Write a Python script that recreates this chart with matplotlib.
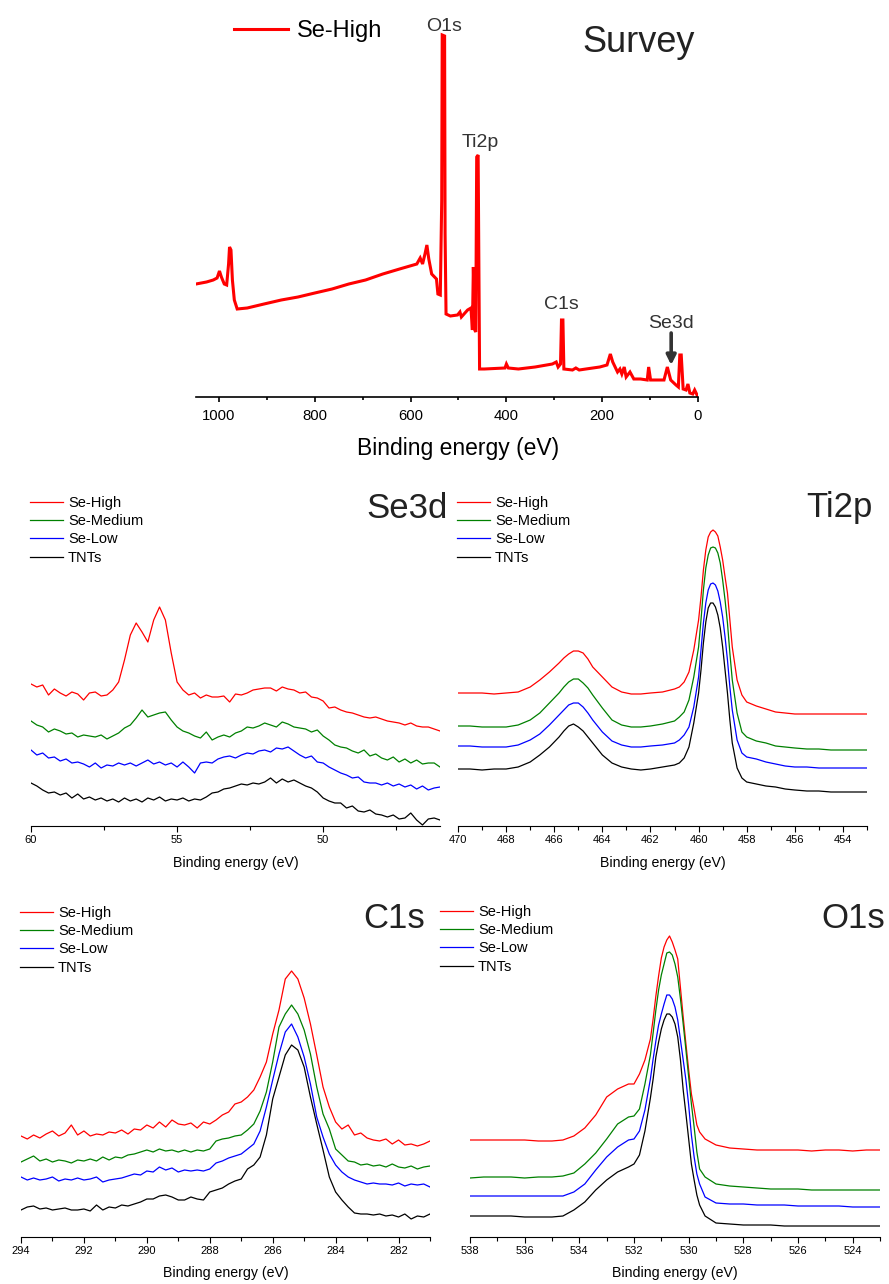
import matplotlib.pyplot as plt
from matplotlib.ticker import MultipleLocator

# Liberation Sans has the same metrics as Arial
plt.rcParams["font.family"] = ["Liberation Sans", "DejaVu Sans"]

W, H = 889, 1284
OUT_PNG = "out.png"

SAMPLES = ["Se-High", "Se-Medium", "Se-Low", "TNTs"]
COLORS = ["#FF0000", "#008000", "#0000FF", "#000000"]

# ---------- survey scan (Se-High), intensity in a.u. ----------
SURVEY_BE = [1048, 1026, 1012, 1004, 999, 995, 989, 984, 980, 978, 975, 972,
             968, 962, 941, 906, 870, 835, 800, 764, 729, 694, 658, 623, 587,
             580, 575, 570, 566, 562, 556, 546, 543, 538, 535, 534, 529, 528,
             526, 517, 502, 497, 494, 481, 474, 471, 469, 466, 464, 462, 459,
             456, 446, 403, 400, 396, 375, 340, 304, 296, 292, 287, 285, 282,
             280, 262, 255, 248, 234, 205, 190, 183, 178, 173, 168, 163, 159,
             154, 150, 142, 134, 120, 106, 103, 99, 71, 64, 57, 46, 41, 38,
             35, 31, 25, 21, 17, 11, 7, 1, 0]
SURVEY_I = [113, 115, 117, 119, 126, 120, 113, 112, 133, 150, 147, 117,
            97, 88, 89, 93, 97, 100, 104, 108, 113, 117, 123, 128, 133,
            139, 133, 143, 152, 138, 123, 118, 103, 102, 197, 362, 361, 163,
            83, 81, 82, 85, 80, 87, 89, 67, 130, 67, 65, 240, 242,
            28, 28, 29, 33, 29, 28, 30, 33, 35, 30, 33, 77, 77,
            28, 27, 29, 27, 28, 30, 32, 43, 35, 30, 25, 28, 23,
            30, 20, 25, 18, 18, 17, 30, 17, 17, 30, 17, 12, 10, 42,
            42, 8, 7, 13, 4, 3, 7, 1, 0]

# ---------- Se3d ----------
SE3D_BE = [60.0, 59.8, 59.6, 59.4, 59.2, 59.0, 58.8, 58.6, 58.4, 58.2,
           58.0, 57.8, 57.6, 57.4, 57.2, 57.0, 56.8, 56.6, 56.4, 56.2,
           56.0, 55.8, 55.6, 55.4, 55.2, 55.0, 54.8, 54.6, 54.4, 54.2,
           54.0, 53.8, 53.6, 53.4, 53.2, 53.0, 52.8, 52.6, 52.4, 52.2,
           52.0, 51.8, 51.6, 51.4, 51.2, 51.0, 50.8, 50.6, 50.4, 50.2,
           50.0, 49.8, 49.6, 49.4, 49.2, 49.0, 48.8, 48.6, 48.4, 48.2,
           48.0, 47.8, 47.6, 47.4, 47.2, 47.0, 46.8, 46.6, 46.4, 46.2, 46.0]
SE3D_HIGH = [142, 139, 141, 131, 137, 133, 130, 134, 132, 126,
             133, 134, 130, 131, 136, 144, 166, 191, 203, 194,
             184, 206, 219, 206, 173, 144, 136, 131, 133, 128,
             131, 129, 129, 130, 124, 132, 131, 133, 136, 137,
             138, 138, 135, 139, 137, 136, 133, 134, 129, 128,
             125, 118, 119, 116, 114, 113, 111, 109, 108, 109,
             107, 105, 104, 103, 101, 103, 100, 99, 99, 97, 95]
SE3D_MEDIUM = [105, 101, 99, 94, 97, 95, 92, 93, 89, 91,
               90, 89, 91, 87, 90, 93, 98, 101, 108, 116,
               109, 111, 113, 114, 106, 99, 95, 93, 90, 88,
               94, 86, 89, 91, 89, 93, 95, 99, 98, 100,
               103, 101, 99, 104, 102, 99, 98, 97, 94, 96,
               90, 86, 81, 79, 78, 75, 73, 76, 70, 72,
               68, 66, 69, 64, 67, 63, 66, 62, 63, 63, 59]
SE3D_LOW = [76, 71, 73, 68, 69, 65, 67, 63, 64, 62,
            59, 63, 58, 61, 60, 63, 61, 63, 60, 63,
            66, 62, 64, 61, 63, 59, 64, 59, 53, 63,
            64, 63, 67, 69, 70, 68, 71, 73, 72, 75,
            76, 74, 78, 77, 79, 75, 71, 68, 70, 64,
            63, 59, 56, 53, 51, 48, 49, 44, 43, 43,
            41, 43, 40, 42, 39, 41, 37, 40, 36, 38, 39]
SE3D_TNTS = [43, 40, 36, 33, 34, 31, 33, 28, 32, 27,
             29, 26, 28, 25, 27, 24, 28, 25, 27, 24,
             28, 26, 29, 25, 27, 26, 28, 25, 27, 26,
             29, 33, 34, 37, 38, 40, 42, 41, 43, 42,
             44, 48, 43, 47, 44, 46, 43, 40, 38, 34,
             28, 25, 23, 23, 18, 20, 15, 14, 16, 12,
             11, 9, 11, 7, 8, 13, 6, 1, 7, 8, 6]

# ---------- Ti2p ----------
TI2P_BE = [470.0, 469.5, 469.0, 468.5, 468.0, 467.5, 467.0, 466.6, 466.2, 465.8,
           465.6, 465.4, 465.2, 465.0, 464.8, 464.6, 464.4, 464.0, 463.6, 463.2,
           462.8, 462.4, 462.0, 461.5, 461.0, 460.8, 460.6, 460.4, 460.2, 460.0,
           459.9, 459.8, 459.7, 459.6, 459.5, 459.4, 459.3, 459.2, 459.1, 459.0,
           458.9, 458.8, 458.7, 458.6, 458.4, 458.2, 458.0, 457.6, 457.2, 456.8,
           456.4, 456.0, 455.5, 455.0, 454.5, 454.0, 453.5, 453.0]
TI2P_HIGH = [133, 133, 133, 132, 133, 134, 139, 146, 154, 163,
             168, 172, 175, 175, 173, 167, 159, 149, 139, 134,
             132, 132, 133, 134, 137, 139, 144, 154, 176, 206,
             229, 256, 276, 289, 294, 296, 294, 290, 279, 266,
             249, 233, 206, 179, 146, 131, 124, 120, 117, 114,
             113, 112, 112, 112, 112, 112, 112, 112]
TI2P_MEDIUM = [100, 100, 99, 99, 99, 101, 106, 113, 123, 133,
               139, 144, 147, 147, 143, 138, 131, 118, 106, 101,
               99, 99, 100, 102, 105, 109, 114, 126, 149, 179,
               206, 236, 258, 271, 278, 279, 278, 273, 263, 246,
               226, 203, 173, 146, 113, 94, 89, 85, 83, 80,
               79, 78, 77, 77, 76, 76, 76, 76]
TI2P_LOW = [80, 80, 79, 79, 79, 81, 86, 92, 101, 111,
            116, 121, 123, 123, 119, 113, 106, 94, 85, 81,
            79, 79, 80, 81, 83, 86, 91, 99, 119, 149,
            176, 203, 223, 236, 242, 243, 241, 235, 224, 209,
            189, 166, 139, 116, 86, 73, 69, 67, 64, 62,
            60, 59, 59, 58, 58, 58, 58, 58]
TI2P_TNTS = [57, 57, 56, 57, 57, 59, 64, 71, 79, 89,
             95, 100, 102, 99, 95, 89, 83, 71, 63, 59,
             57, 56, 57, 59, 61, 63, 68, 79, 103, 133,
             156, 183, 204, 218, 223, 223, 219, 211, 198, 179,
             156, 133, 106, 83, 58, 48, 44, 42, 40, 39,
             37, 36, 35, 35, 34, 34, 34, 34]

# ---------- C1s ----------
C1S_BE = [294.0, 293.8, 293.6, 293.4, 293.2, 293.0, 292.8, 292.6, 292.4, 292.2,
          292.0, 291.8, 291.6, 291.4, 291.2, 291.0, 290.8, 290.6, 290.4, 290.2,
          290.0, 289.8, 289.6, 289.4, 289.2, 289.0, 288.8, 288.6, 288.4, 288.2,
          288.0, 287.8, 287.6, 287.4, 287.2, 287.0, 286.8, 286.6, 286.4, 286.2,
          286.0, 285.8, 285.6, 285.4, 285.2, 285.0, 284.8, 284.6, 284.4, 284.2,
          284.0, 283.8, 283.6, 283.4, 283.2, 283.0, 282.8, 282.6, 282.4, 282.2,
          282.0, 281.8, 281.6, 281.4, 281.2, 281.0]
C1S_HIGH = [101, 98, 102, 99, 103, 106, 101, 104, 112, 102,
            106, 101, 103, 102, 105, 104, 107, 103, 108, 107,
            112, 109, 115, 110, 117, 113, 112, 114, 109, 115,
            113, 117, 122, 125, 133, 135, 140, 147, 160, 175,
            203, 227, 258, 266, 258, 239, 213, 182, 150, 130,
            115, 108, 112, 102, 104, 99, 97, 96, 98, 93,
            97, 92, 93, 91, 93, 96]
C1S_MEDIUM = [75, 78, 81, 76, 78, 75, 77, 76, 74, 77,
              76, 78, 76, 80, 77, 80, 79, 82, 83, 85,
              87, 85, 88, 86, 87, 85, 87, 85, 87, 86,
              88, 96, 98, 99, 101, 102, 107, 113, 126, 145,
              175, 210, 223, 232, 223, 207, 183, 150, 123, 108,
              88, 82, 76, 75, 72, 73, 71, 72, 70, 73,
              70, 69, 71, 68, 70, 71]
C1S_LOW = [60, 57, 59, 57, 58, 60, 56, 58, 57, 59,
           57, 58, 60, 55, 57, 58, 59, 61, 63, 62,
           66, 65, 70, 67, 69, 65, 67, 66, 67, 66,
           68, 74, 76, 79, 81, 83, 88, 93, 106, 130,
           157, 183, 205, 213, 200, 180, 153, 120, 100, 83,
           72, 65, 60, 57, 55, 53, 54, 53, 53, 52,
           54, 51, 53, 52, 53, 50]
C1S_TNTS = [27, 30, 31, 28, 29, 27, 28, 29, 27, 27,
            28, 26, 32, 27, 30, 29, 32, 31, 33, 35,
            38, 38, 41, 42, 40, 37, 37, 40, 38, 37,
            45, 47, 49, 53, 56, 58, 68, 72, 80, 102,
            138, 160, 182, 192, 187, 170, 140, 113, 87, 60,
            45, 37, 30, 24, 23, 23, 22, 23, 21, 22,
            20, 23, 18, 21, 20, 23]

# ---------- O1s ----------
O1S_BE = [538.0, 537.5, 537.0, 536.5, 536.0, 535.5, 535.0, 534.6, 534.2, 533.8,
          533.4, 533.0, 532.6, 532.2, 532.0, 531.8, 531.6,
          531.4, 531.3, 531.2, 531.1, 531.0, 530.9, 530.8, 530.7, 530.6, 530.5,
          530.4, 530.3, 530.2, 530.1, 530.0, 529.9, 529.8, 529.7, 529.6,
          529.4, 529.0, 528.5, 528.0, 527.5, 527.0, 526.5, 526.0, 525.5, 525.0,
          524.5, 524.0, 523.5, 523.0]
O1S_HIGH = [97, 97, 97, 97, 97, 96, 96, 97, 101, 109,
            122, 140, 148, 153, 153, 163, 177,
            198, 218, 241, 261, 279, 290, 297, 301, 295, 287,
            278, 249, 220, 193, 167, 143, 128, 112, 105,
            98, 92, 89, 88, 87, 87, 87, 87, 86, 87,
            87, 86, 87, 87]
O1S_MEDIUM = [59, 60, 60, 60, 59, 60, 60, 61, 64, 73,
              84, 98, 113, 120, 121, 128, 153,
              182, 204, 227, 247, 262, 273, 284, 285, 282, 273,
              260, 238, 213, 187, 160, 133, 110, 85, 68,
              60, 53, 51, 50, 49, 48, 48, 48, 47, 47,
              47, 47, 47, 47]
O1S_LOW = [41, 41, 41, 41, 41, 41, 41, 41, 45, 53,
           67, 80, 90, 97, 98, 106, 127,
           158, 178, 196, 212, 223, 233, 242, 242, 238, 230,
           217, 197, 177, 157, 132, 102, 80, 63, 53,
           40, 34, 33, 33, 32, 32, 32, 31, 31, 31,
           31, 30, 30, 30]
O1S_TNTS = [21, 21, 21, 21, 20, 20, 20, 21, 27, 35,
            47, 57, 65, 70, 73, 82, 106,
            139, 158, 180, 195, 208, 217, 223, 223, 220, 213,
            200, 177, 147, 123, 98, 73, 57, 42, 32,
            21, 14, 13, 12, 12, 12, 11, 11, 11, 11,
            11, 11, 11, 11]

PANEL_H = 330  # plot height of the four detail panels, in pixels


def px_rect(left, right, top, bottom):
    """pixel box (origin top-left) -> figure fraction rect"""
    return [left / W, 1 - bottom / H, (right - left) / W, (bottom - top) / H]


def fig_xy(x, y):
    return (x / W, 1 - y / H)


def style_xaxis(ax, major, minor, lw, fs, length, pad):
    for side in ("left", "right", "top"):
        ax.spines[side].set_visible(False)
    ax.spines["bottom"].set_linewidth(lw)
    ax.set_yticks([])
    ax.xaxis.set_major_locator(MultipleLocator(major))
    ax.xaxis.set_minor_locator(MultipleLocator(minor))
    ax.tick_params(axis="x", which="major", direction="out", length=length,
                   width=lw, labelsize=fs, pad=pad)
    ax.tick_params(axis="x", which="minor", direction="out",
                   length=length * 0.65, width=lw)
    ax.patch.set_alpha(0)


def plot_survey(fig):
    left, right, bottom = 196, 698, 397
    ax = fig.add_axes(px_rect(left, right, bottom - 380, bottom))
    ax.plot(SURVEY_BE, SURVEY_I, color="#FF0000", lw=2.2, label="Se-High",
            solid_joinstyle="miter")
    ax.set_xlim(1048, 0)
    ax.set_ylim(0, 380)
    style_xaxis(ax, 200, 100, 1.2, 10.7, 3.8, 5)

    ax.set_xlabel("Binding energy (eV)", fontsize=16.5)
    ax.xaxis.label.set_va("center")
    ax.xaxis.set_label_coords((458 - left) / (right - left), -(448 - bottom) / 380)

    # peak labels
    for txt, be, y in [("O1s", 530, 366), ("Ti2p", 454, 250),
                       ("C1s", 286, 88), ("Se3d", 56, 69)]:
        ax.text(be, y, txt, ha="center", va="baseline", fontsize=14,
                color="#333333", clip_on=False)
    ax.annotate("", xy=(56, 32), xytext=(56, 64),
                arrowprops=dict(arrowstyle="-|>", lw=2.6, color="#333333",
                                mutation_scale=14, shrinkA=0, shrinkB=0))

    fig.text(*fig_xy(695, 52), "Survey", ha="right", va="baseline",
             fontsize=26, color="#222222")
    ax.legend(loc="upper left", bbox_to_anchor=fig_xy(234, 20),
              bbox_transform=fig.transFigure, frameon=False, fontsize=17,
              handlelength=2.3, handletextpad=0.36, borderpad=0,
              borderaxespad=0)


def plot_panel(fig, box, be, series, xlim, major, minor, title, title_xy,
               legend_xy, xlabel_y):
    left, right, bottom = box
    ax = fig.add_axes(px_rect(left, right, bottom - PANEL_H, bottom))
    for ys, color, name in zip(series, COLORS, SAMPLES):
        ax.plot(be, ys, color=color, lw=0.9, label=name)
    ax.set_xlim(*xlim)
    ax.set_ylim(0, PANEL_H)
    style_xaxis(ax, major, minor, 0.8, 8, 4.0, 2.3)

    ax.set_xlabel("Binding energy (eV)", fontsize=10.2)
    ax.xaxis.label.set_va("center")
    ax.xaxis.set_label_coords(0.5, -(xlabel_y - bottom) / PANEL_H)

    fig.text(*fig_xy(*title_xy), title, ha="right", va="baseline",
             fontsize=25, color="#222222")
    ax.legend(loc="upper left", bbox_to_anchor=fig_xy(*legend_xy),
              bbox_transform=fig.transFigure, frameon=False, fontsize=10.5,
              handlelength=2.25, handletextpad=0.35, labelspacing=0.29,
              borderpad=0, borderaxespad=0)
    return ax


def main():
    fig = plt.figure(figsize=(W / 100, H / 100), dpi=100)

    plot_survey(fig)

    plot_panel(fig, (31, 440, 826), SE3D_BE,
               [SE3D_HIGH, SE3D_MEDIUM, SE3D_LOW, SE3D_TNTS],
               (60, 46), 5, 2.5, "Se3d", (448, 518), (30, 496), 863)
    plot_panel(fig, (458, 867, 826), TI2P_BE,
               [TI2P_HIGH, TI2P_MEDIUM, TI2P_LOW, TI2P_TNTS],
               (470, 453), 2, 1, "Ti2p", (873, 517), (457, 496), 863)
    plot_panel(fig, (21, 430, 1237), C1S_BE,
               [C1S_HIGH, C1S_MEDIUM, C1S_LOW, C1S_TNTS],
               (294, 281), 2, 1, "C1s", (425, 928), (20, 906), 1273)
    plot_panel(fig, (470, 880, 1237), O1S_BE,
               [O1S_HIGH, O1S_MEDIUM, O1S_LOW, O1S_TNTS],
               (538, 523), 2, 1, "O1s", (885, 928), (440, 905), 1273)

    fig.savefig(OUT_PNG, dpi=100, facecolor="white")
    plt.close(fig)


if __name__ == "__main__":
    main()
